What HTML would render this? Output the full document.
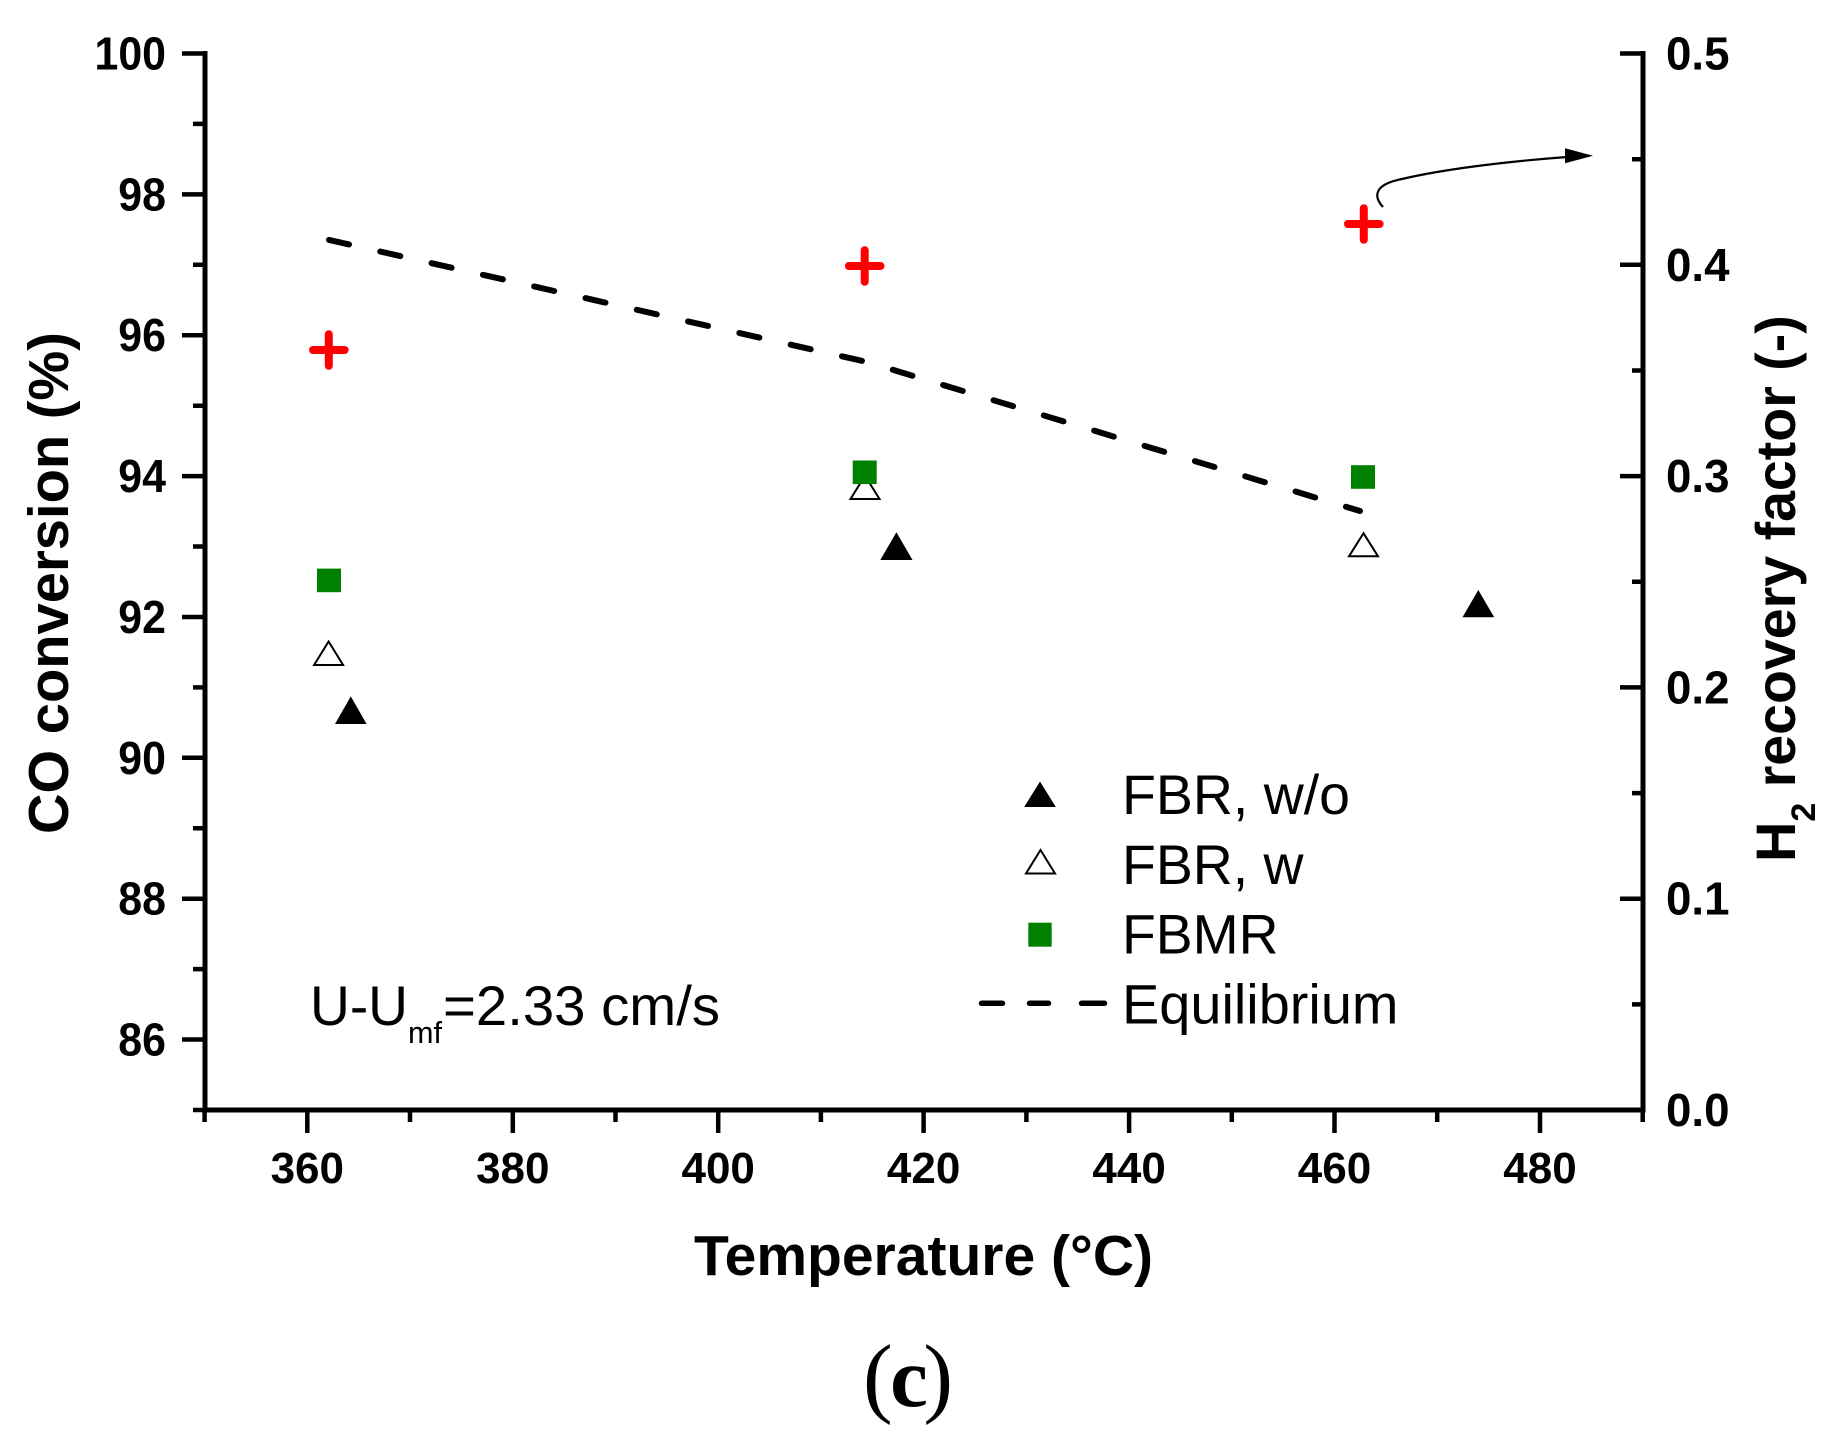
<!DOCTYPE html>
<html>
<head>
<meta charset="utf-8">
<style>
  html, body { margin: 0; padding: 0; background: #ffffff; }
  body { width: 1841px; height: 1444px; overflow: hidden; }
  svg { display: block; }
  text { font-family: "Liberation Sans", Arial, sans-serif; fill: #000; }
</style>
</head>
<body>
<svg width="1841" height="1444" viewBox="0 0 1841 1444" xmlns="http://www.w3.org/2000/svg">
  <rect x="0" y="0" width="1841" height="1444" fill="#ffffff"/>

  <!-- Axes frame (left, bottom, right) -->
  <path d="M205,53.5 V1110 H1643 V53.5" fill="none" stroke="#000" stroke-width="5" stroke-linecap="square" stroke-linejoin="miter"/>

  <g stroke="#000" stroke-width="4.5" fill="none">
    <!-- left majors -->
    <path d="M182,53.5H205 M182,194.4H205 M182,335.2H205 M182,476.1H205 M182,617H205 M182,757.8H205 M182,898.7H205 M182,1039.5H205"/>
    <!-- left minors -->
    <path d="M193,123.9H205 M193,264.8H205 M193,405.7H205 M193,546.5H205 M193,687.4H205 M193,828.2H205 M193,969.1H205 M193,1110H205"/>
    <!-- right axis majors (inward) -->
    <path d="M1620,53.5H1643 M1620,264.8H1643 M1620,476.1H1643 M1620,687.4H1643 M1620,898.7H1643 M1620,1110H1643"/>
    <!-- right axis minors -->
    <path d="M1632,159.2H1643 M1632,370.5H1643 M1632,581.8H1643 M1632,793.1H1643 M1632,1004.4H1643"/>
    <!-- bottom majors -->
    <path d="M307.3,1110V1133 M512.8,1110V1133 M718.2,1110V1133 M923.6,1110V1133 M1129.1,1110V1133 M1334.5,1110V1133 M1540,1110V1133"/>
    <!-- bottom minors -->
    <path d="M204.6,1110V1122 M410,1110V1122 M615.5,1110V1122 M820.9,1110V1122 M1026.4,1110V1122 M1231.8,1110V1122 M1437.2,1110V1122 M1642.7,1110V1122"/>
  </g>

  <!-- Left tick labels -->
  <g font-size="46" font-weight="bold" text-anchor="end">
    <text x="166" y="69.5" textLength="71.5" lengthAdjust="spacingAndGlyphs">100</text>
    <text x="166" y="210.4" textLength="47.7" lengthAdjust="spacingAndGlyphs">98</text>
    <text x="166" y="351.2" textLength="47.7" lengthAdjust="spacingAndGlyphs">96</text>
    <text x="166" y="492.1" textLength="47.7" lengthAdjust="spacingAndGlyphs">94</text>
    <text x="166" y="633" textLength="47.7" lengthAdjust="spacingAndGlyphs">92</text>
    <text x="166" y="773.8" textLength="47.7" lengthAdjust="spacingAndGlyphs">90</text>
    <text x="166" y="914.7" textLength="47.7" lengthAdjust="spacingAndGlyphs">88</text>
    <text x="166" y="1055.5" textLength="47.7" lengthAdjust="spacingAndGlyphs">86</text>
  </g>

  <!-- Right tick labels -->
  <g font-size="46" font-weight="bold" text-anchor="start">
    <text x="1666" y="69.5" textLength="63.5" lengthAdjust="spacingAndGlyphs">0.5</text>
    <text x="1666" y="280.8" textLength="63.5" lengthAdjust="spacingAndGlyphs">0.4</text>
    <text x="1666" y="492.1" textLength="63.5" lengthAdjust="spacingAndGlyphs">0.3</text>
    <text x="1666" y="703.4" textLength="63.5" lengthAdjust="spacingAndGlyphs">0.2</text>
    <text x="1666" y="914.7" textLength="63.5" lengthAdjust="spacingAndGlyphs">0.1</text>
    <text x="1666" y="1126" textLength="63.5" lengthAdjust="spacingAndGlyphs">0.0</text>
  </g>

  <!-- Bottom tick labels -->
  <g font-size="44" font-weight="bold" text-anchor="middle">
    <text x="307.3" y="1183">360</text>
    <text x="512.8" y="1183">380</text>
    <text x="718.2" y="1183">400</text>
    <text x="923.6" y="1183">420</text>
    <text x="1129.1" y="1183">440</text>
    <text x="1334.5" y="1183">460</text>
    <text x="1540" y="1183">480</text>
  </g>

  <!-- Axis titles -->
  <text x="923.5" y="1275" font-size="57" font-weight="bold" text-anchor="middle" textLength="459" lengthAdjust="spacingAndGlyphs">Temperature (°C)</text>

  <g transform="translate(68,583) rotate(-90)">
    <text x="0" y="0" font-size="57" font-weight="bold" text-anchor="middle" textLength="502" lengthAdjust="spacingAndGlyphs">CO conversion (%)</text>
  </g>

  <g transform="translate(1795,862) rotate(-90)">
    <text x="0" y="0" font-size="56" font-weight="bold">H</text>
    <text x="40.4" y="20" font-size="34" font-weight="bold">2</text>
    <text x="74.7" y="0" font-size="56" font-weight="bold" textLength="472" lengthAdjust="spacingAndGlyphs">recovery factor (-)</text>
  </g>

  <!-- Equilibrium dashed line -->
  <path d="M329,239.9 L867,362 L1360,511" fill="none" stroke="#000" stroke-width="6" stroke-linecap="round" stroke-dasharray="20.5 32.1"/>

  <!-- FBR, w (open triangles) -->
  <g fill="#fff" stroke="#000" stroke-width="2" stroke-linejoin="miter">
    <path d="M328.6,641.5 L343.1,665 L314.1,665 Z"/>
    <path d="M865,475.7 L879.5,499 L850.5,499 Z"/>
    <path d="M1363.5,533.2 L1378,556.3 L1349,556.3 Z"/>
  </g>

  <!-- FBR, w/o (filled triangles) -->
  <g fill="#000">
    <path d="M350.8,696.4 L366.6,724 L335,724 Z"/>
    <path d="M896.4,532.3 L912.5,560 L880.3,560 Z"/>
    <path d="M1478.3,590 L1494.2,617.3 L1462.5,617.3 Z"/>
  </g>

  <!-- FBMR (green squares) -->
  <g fill="#008000">
    <rect x="317" y="568.6" width="24" height="23.6"/>
    <rect x="852.7" y="460.5" width="24" height="23.6"/>
    <rect x="1351" y="465.2" width="24" height="23.6"/>
  </g>

  <!-- H2 recovery factor (red crosses) -->
  <g stroke="#ff0000" stroke-width="8" stroke-linecap="round" fill="none">
    <path d="M313,350H344.6 M328.8,334.2V365.8"/>
    <path d="M848.9,266H880.5 M864.7,250.2V281.8"/>
    <path d="M1348,224H1379.6 M1363.8,208.2V239.8"/>
  </g>

  <!-- Arrow annotation -->
  <path d="M1383,207 C1372,195 1376,184 1402,179 C1440,170 1500,162 1567,157" fill="none" stroke="#000" stroke-width="2.2"/>
  <path d="M1565,148.3 L1593,155.7 L1565,163.3 Z" fill="#000"/>

  <!-- Legend -->
  <path d="M1040,781.5 L1055.8,807 L1024.2,807 Z" fill="#000"/>
  <path d="M1040.5,850 L1055,873.5 L1026,873.5 Z" fill="#fff" stroke="#000" stroke-width="2"/>
  <rect x="1028.3" y="922.7" width="23.4" height="24" fill="#008000"/>
  <path d="M981.5,1003.3H1002.5 M1029.5,1003.3H1048.5 M1081.5,1003.3H1104.5" stroke="#000" stroke-width="5.5" stroke-linecap="round" fill="none"/>

  <g font-size="56">
    <text x="1122" y="814" textLength="228" lengthAdjust="spacingAndGlyphs">FBR, w/o</text>
    <text x="1122" y="883.8" textLength="181.5" lengthAdjust="spacingAndGlyphs">FBR, w</text>
    <text x="1122" y="953.6" textLength="156.5" lengthAdjust="spacingAndGlyphs">FBMR</text>
    <text x="1122" y="1023.4" textLength="276.5" lengthAdjust="spacingAndGlyphs">Equilibrium</text>
  </g>

  <!-- U-Umf annotation -->
  <text x="310" y="1025" font-size="56" textLength="98" lengthAdjust="spacingAndGlyphs">U-U</text>
  <text x="408" y="1043" font-size="31" textLength="34" lengthAdjust="spacingAndGlyphs">mf</text>
  <text x="443" y="1025" font-size="56" textLength="277" lengthAdjust="spacingAndGlyphs">=2.33 cm/s</text>

  <!-- (c) caption -->
  <g style="font-family:'Liberation Serif','Times New Roman',serif;">
    <text x="863" y="1406" font-size="89" style="font-family:'Liberation Serif','Times New Roman',serif;">(</text>
    <text x="909" y="1406" font-size="85" font-weight="bold" text-anchor="middle" style="font-family:'Liberation Serif','Times New Roman',serif;">c</text>
    <text x="953" y="1406" font-size="89" text-anchor="end" style="font-family:'Liberation Serif','Times New Roman',serif;">)</text>
  </g>
</svg>
</body>
</html>
